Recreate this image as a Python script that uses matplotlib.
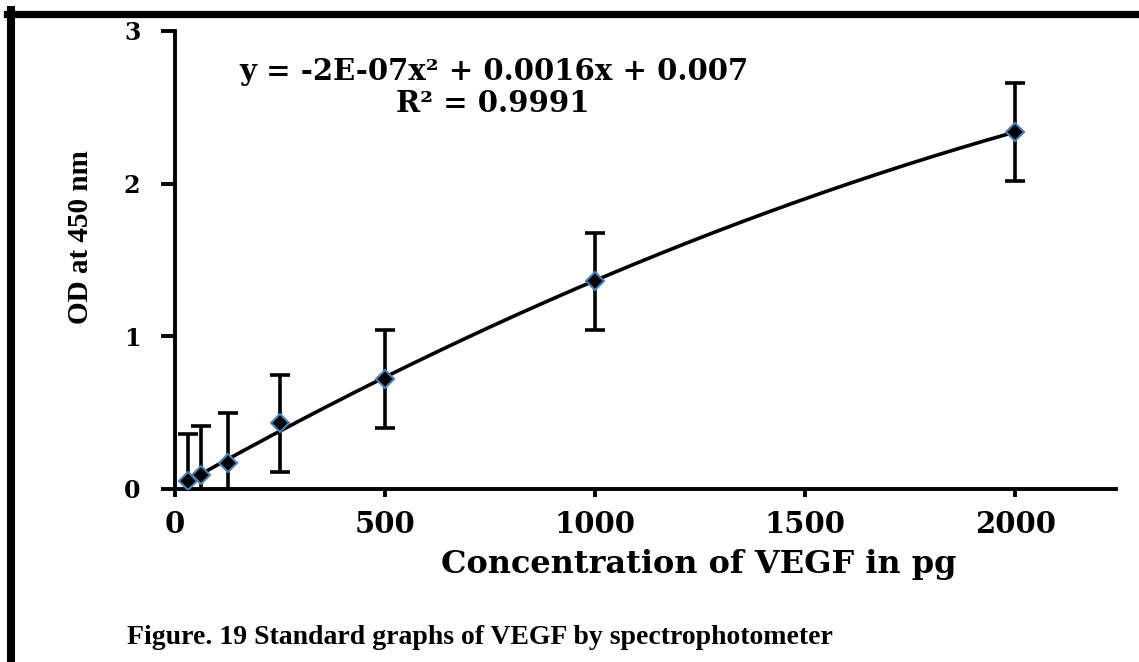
import numpy as np
import matplotlib
matplotlib.use("Agg")
import matplotlib.pyplot as plt
from matplotlib.lines import Line2D

# Data
conc = [31.25, 62.5, 125, 250, 500, 1000, 2000]
od = [0.05, 0.09, 0.17, 0.43, 0.72, 1.36, 2.34]
od_err = [0.31, 0.32, 0.33, 0.32, 0.32, 0.32, 0.32]
x_ticks = [0, 500, 1000, 1500, 2000]
y_ticks = [0, 1, 2, 3]
equation_text = "y = -2E-07x² + 0.0016x + 0.007"
r2_text = "R² = 0.9991"
x_label = "Concentration of VEGF in pg"
y_label = "OD at 450 nm"
caption = "Figure. 19 Standard graphs of VEGF by spectrophotometer"

W, H = 1139, 662
fig = plt.figure(figsize=(W / 100, H / 100), dpi=100)
plt.rcParams['font.family'] = ['Liberation Serif', 'DejaVu Serif']
WIDE = ['DejaVu Serif']

ax_l, ax_r, ax_t, ax_b = 175, 1116, 31, 489
ax = fig.add_axes([ax_l / W, 1 - ax_b / H, (ax_r - ax_l) / W, (ax_b - ax_t) / H])
ax.set_xlim(0, 2240)
ax.set_ylim(0, 3)

# Trendline (2nd order polynomial)
coef = np.polyfit(conc, od, 2)
xs = np.linspace(conc[0], conc[-1], 300)
ax.plot(xs, np.polyval(coef, xs), color='black', lw=2.6, zorder=3, solid_capstyle='round')

ax.errorbar(conc, od, yerr=od_err, fmt='none', ecolor='black', elinewidth=2.6,
            capsize=7, capthick=2.6, zorder=4, clip_on=True)
ax.plot(conc, od, linestyle='none', marker='D', markersize=9,
        markerfacecolor='black', markeredgecolor='#4a7ebb', markeredgewidth=1.5, zorder=5)

for s in ['top', 'right']:
    ax.spines[s].set_visible(False)
for s in ['left', 'bottom']:
    ax.spines[s].set_linewidth(2.8)

ax.set_xticks(x_ticks)
ax.set_yticks(y_ticks)
ax.tick_params(axis='y', direction='out', length=10, width=2.8, pad=15)
ax.tick_params(axis='x', direction='out', length=6, width=2.8, pad=9)
for lab in ax.get_xticklabels():
    lab.set_fontweight('bold')
    lab.set_family(WIDE)
    lab.set_fontsize(21)
for lab in ax.get_yticklabels():
    lab.set_fontweight('bold')
    lab.set_family(WIDE)
    lab.set_fontsize(17)

# Text
fig.text(494 / W, 1 - 72 / H, equation_text, ha='center', va='center',
         fontsize=21, fontweight='bold', family=WIDE)
fig.text(493 / W, 1 - 103 / H, r2_text, ha='center', va='center',
         fontsize=21, fontweight='bold', family=WIDE)
fig.text(699 / W, 1 - 564 / H, x_label, ha='center', va='center',
         fontsize=23, fontweight='bold', family=WIDE)
fig.text(80 / W, 1 - 237 / H, y_label, ha='center', va='center', rotation=90,
         fontsize=21, fontweight='bold')
fig.text(480 / W, 1 - 637 / H, caption, ha='center', va='center',
         fontsize=20, fontweight='bold')

# Border lines
fig.add_artist(Line2D([7 / W, 1.0], [1 - 13.5 / H, 1 - 13.5 / H], color='black', lw=5.2,
                      transform=fig.transFigure))
fig.add_artist(Line2D([11 / W, 11 / W], [0, 1 - 10 / H], color='black', lw=5.8,
                      transform=fig.transFigure))

fig.savefig('out.png', dpi=100)
